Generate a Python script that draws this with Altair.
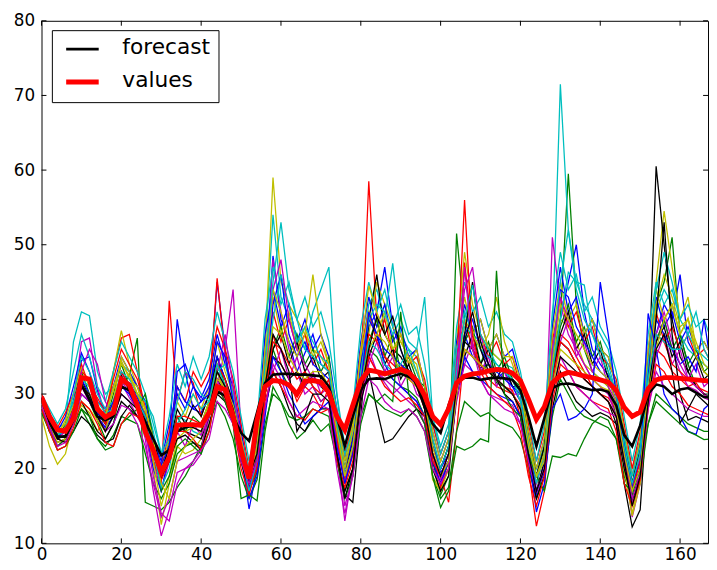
import altair as alt
import pandas as pd

# x positions (hours) shared by every series
hours = list(range(0, 169, 2))
x_ticks = [0, 20, 40, 60, 80, 100, 120, 140, 160]
y_ticks = [10, 20, 30, 40, 50, 60, 70, 80]

values_line = [
    29.6, 27.0, 25.2, 25.0, 26.8, 32.2, 32.0, 28.0, 26.9, 27.5, 32.0, 31.2,
    28.5, 25.0, 22.5, 19.5, 21.5, 25.8, 25.9, 25.9, 25.8, 27.5, 31.0, 30.6,
    27.0, 22.5, 18.7, 26.5, 31.0, 31.8, 31.7, 31.2, 30.0, 31.7, 31.8, 31.6,
    30.2, 27.0, 25.2, 28.5, 31.8, 33.2, 33.0, 32.7, 33.0, 33.3, 32.9, 31.8,
    29.8, 27.0, 25.9, 28.0, 31.5, 32.4, 32.7, 32.8, 33.1, 33.3, 33.2, 32.8,
    31.8, 29.3, 26.6, 28.3, 31.5, 32.5, 32.9, 32.7, 32.4, 32.2, 31.9, 31.6,
    30.5, 28.2, 27.0, 27.6, 30.7, 31.9, 32.2, 32.2, 32.1, 32.0, 31.9, 31.8, 31.7]

forecast_line = [
    29.3, 26.5, 24.3, 24.3, 26.5, 31.3, 29.2, 27.0, 26.5, 27.0, 31.0, 30.5,
    28.5, 26.3, 24.0, 21.8, 22.5, 25.0, 25.5, 25.8, 25.8, 27.5, 30.3, 29.8,
    27.0, 24.8, 23.7, 27.5, 31.5, 32.6, 32.7, 32.7, 32.6, 32.6, 32.5, 32.4,
    31.0, 27.0, 23.0, 27.0, 30.5, 32.0, 32.1, 32.0, 32.4, 32.7, 32.3, 31.7,
    28.5, 26.0, 24.8, 28.5, 31.5, 32.2, 32.2, 31.9, 32.1, 32.2, 32.1, 31.9,
    30.5, 27.0, 23.0, 26.8, 30.8, 31.3, 31.4, 31.2, 30.8, 30.5, 30.6, 30.3,
    28.5, 24.5, 23.0, 25.8, 30.0, 31.3, 31.0, 30.0, 30.6, 30.8, 30.2, 29.6, 29.5]

blue_1 = [
    29.5, 27.0, 24.5, 25.0, 28.0, 34.5, 35.0, 30.5, 27.0, 28.5, 33.0, 31.0,
    29.0, 27.5, 22.0, 19.0, 24.0, 40.0, 33.0, 28.0, 27.5, 30.0, 45.0, 36.0,
    29.0, 22.0, 14.6, 20.0, 33.0, 48.5, 40.0, 37.0, 33.0, 35.5, 38.0, 34.0,
    33.0, 26.0, 19.0, 23.0, 33.0, 39.0, 41.0, 47.0, 39.0, 36.0, 33.0, 32.0,
    28.0, 22.0, 19.5, 21.0, 32.0, 38.0, 35.0, 33.5, 34.0, 32.0, 33.0, 31.0,
    29.0, 23.0, 16.5, 21.0, 33.0, 40.0, 45.0, 50.0, 41.0, 36.0, 34.0, 32.5,
    29.0, 22.0, 17.5, 21.0, 31.0, 38.0, 42.0, 40.0, 46.0, 37.0, 35.0, 33.0, 32.0]
green_1 = [
    28.5, 26.0, 24.0, 24.5, 26.0, 30.0, 29.0, 26.5, 24.0, 26.0, 31.0, 32.5,
    37.5, 15.5, 15.0, 14.5, 15.5, 17.5, 19.0, 21.0, 23.0, 27.0, 33.0, 30.0,
    26.0, 21.0, 17.0, 19.5, 30.0, 36.0, 33.0, 31.0, 30.0, 33.0, 31.0, 29.0,
    30.0, 24.0, 18.0, 22.0, 30.0, 36.0, 35.0, 33.0, 32.0, 31.0, 30.5, 29.5,
    27.0, 21.0, 16.5, 19.0, 51.5, 40.0, 36.0, 33.0, 34.0, 31.5, 31.0, 30.0,
    28.0, 23.0, 18.0, 22.0, 35.0, 40.0, 59.5, 42.0, 36.0, 33.0, 32.0, 31.0,
    27.0, 21.0, 16.5, 20.0, 33.0, 42.0, 45.0, 51.0, 38.0, 34.0, 31.0, 30.0, 29.5]
red_1 = [
    29.0, 26.5, 24.0, 23.5, 27.0, 31.0, 29.5, 27.0, 25.0, 33.0, 37.5, 38.0,
    33.0, 28.0, 21.0, 18.0, 42.5, 29.0, 33.0, 31.5, 27.0, 30.0, 45.5, 35.0,
    30.0, 24.0, 18.0, 22.0, 30.0, 38.0, 34.0, 32.0, 29.0, 31.0, 30.0, 28.0,
    31.0, 24.0, 18.5, 24.0, 33.0, 58.5, 40.0, 35.0, 33.0, 34.0, 32.0, 31.0,
    28.0, 22.0, 19.0, 15.5, 25.0, 36.0, 35.0, 34.0, 32.0, 31.0, 30.5, 30.0,
    28.5, 24.0, 19.0, 23.0, 33.0, 38.0, 37.0, 35.0, 33.0, 31.0, 30.0, 29.5,
    28.0, 23.0, 18.0, 22.0, 30.0, 36.0, 35.0, 33.0, 32.0, 31.0, 31.5, 30.0, 29.0]
cyan_1 = [
    29.5, 27.5, 25.5, 26.0, 37.0, 41.0, 40.5, 33.0, 30.0, 31.0, 34.0, 33.0,
    31.0, 29.0, 25.0, 20.0, 22.0, 27.0, 26.5, 25.0, 24.5, 28.0, 33.0, 32.0,
    28.0, 23.0, 19.0, 23.0, 36.0, 54.0, 43.0, 40.0, 38.0, 36.0, 41.0, 44.0,
    47.0, 30.0, 21.0, 26.0, 35.0, 42.0, 44.0, 40.0, 47.5, 38.0, 36.0, 35.0,
    31.0, 26.0, 22.0, 25.0, 36.0, 41.0, 38.0, 37.0, 36.0, 35.0, 34.0, 33.5,
    31.0, 25.0, 20.0, 23.0, 38.0, 71.5, 52.0, 45.0, 42.0, 40.0, 38.0, 36.0,
    31.0, 24.0, 20.0, 24.0, 33.0, 41.0, 44.0, 42.0, 38.0, 36.0, 35.0, 34.0, 33.0]
magenta_1 = [
    28.0, 25.5, 23.0, 24.0, 29.0, 37.0, 37.5, 31.0, 27.0, 28.0, 32.0, 30.0,
    28.0, 24.0, 17.0, 11.0, 14.5, 19.5, 20.0, 20.5, 22.0, 27.0, 31.0, 36.0,
    44.0, 25.0, 18.5, 22.0, 31.0, 48.0, 41.0, 36.0, 33.0, 30.0, 31.0, 29.0,
    30.0, 22.0, 13.0, 20.0, 29.0, 35.0, 33.0, 31.5, 30.0, 31.0, 30.0, 29.0,
    26.0, 20.0, 18.0, 20.0, 30.0, 34.0, 33.0, 32.0, 30.0, 29.5, 29.0, 28.5,
    26.0, 21.0, 16.0, 20.0, 51.0, 42.0, 38.0, 36.0, 34.0, 32.0, 31.0, 30.0,
    27.0, 21.0, 15.5, 20.0, 30.0, 37.0, 40.0, 36.0, 33.0, 31.0, 30.5, 29.5, 29.0]
yellow_1 = [
    27.0, 23.0, 20.6, 22.0, 26.5, 28.5, 27.5, 25.0, 27.0, 33.0, 38.5, 34.0,
    31.0, 27.0, 20.0, 12.5, 18.0, 23.0, 22.0, 22.5, 24.0, 29.0, 34.0, 32.0,
    29.0, 23.0, 18.0, 24.0, 36.0, 59.0, 45.0, 42.0, 40.0, 38.0, 36.0, 35.0,
    33.0, 25.0, 20.0, 24.0, 33.0, 38.0, 45.0, 42.0, 39.0, 37.0, 35.0, 34.0,
    29.0, 19.0, 17.0, 21.0, 37.0, 49.0, 42.0, 38.0, 36.0, 35.0, 34.0, 32.0,
    29.0, 23.0, 18.0, 22.0, 33.0, 40.0, 39.0, 37.0, 34.0, 33.0, 32.0, 31.0,
    28.0, 20.0, 14.0, 19.0, 32.0, 45.0, 54.5, 47.0, 40.0, 43.0, 36.0, 33.0, 32.0]
black_1 = [
    28.5, 25.0, 23.5, 24.0, 27.0, 29.0, 27.0, 25.0, 24.0, 26.0, 29.0, 28.0,
    27.0, 26.0, 21.0, 18.5, 22.0, 26.0, 25.0, 24.5, 24.0, 27.0, 32.0, 30.0,
    27.0, 21.0, 17.0, 21.0, 30.0, 35.0, 34.0, 32.0, 33.0, 31.0, 32.5, 31.0,
    30.0, 22.0, 16.5, 15.5, 27.0, 40.0, 46.0, 38.0, 36.0, 35.0, 33.0, 32.0,
    28.0, 21.0, 18.0, 21.0, 32.0, 37.0, 36.0, 34.0, 33.0, 32.0, 31.0, 30.0,
    28.0, 22.0, 17.0, 21.0, 31.0, 37.0, 36.0, 34.0, 32.0, 31.0, 30.0, 29.0,
    26.0, 18.0, 12.2, 14.5, 30.0, 60.5, 50.0, 40.0, 35.0, 33.0, 31.0, 30.0, 29.0]
blue_2 = [
    28.0, 25.5, 24.0, 25.5, 29.0, 32.0, 30.0, 27.0, 25.5, 27.0, 31.0, 30.0,
    28.0, 25.0, 20.0, 17.0, 22.0, 31.0, 29.0, 28.0, 29.0, 31.0, 35.0, 32.0,
    28.0, 22.0, 17.5, 20.0, 30.0, 42.0, 46.0, 38.0, 35.0, 37.0, 34.0, 33.0,
    32.0, 25.0, 20.0, 24.0, 34.0, 40.0, 38.0, 36.0, 35.0, 34.0, 33.0, 32.0,
    29.0, 23.0, 20.0, 22.0, 31.0, 38.0, 40.0, 36.0, 34.0, 33.0, 32.0, 31.0,
    30.0, 24.0, 17.0, 19.5, 34.0, 44.0, 43.0, 39.0, 37.0, 35.0, 33.0, 32.0,
    29.0, 23.0, 18.0, 21.0, 33.0, 40.0, 38.0, 36.0, 34.0, 35.0, 33.0, 40.0, 33.0]
green_2 = [
    28.0, 25.0, 23.0, 24.0, 26.0, 28.0, 26.0, 24.0, 23.0, 24.5, 27.0, 26.5,
    26.0, 22.0, 18.0, 16.0, 18.0, 22.0, 23.0, 23.5, 23.0, 26.0, 29.0, 27.0,
    24.0, 19.0, 16.0, 18.5, 26.0, 30.0, 29.0, 26.0, 24.0, 25.0, 26.5, 25.0,
    26.0, 21.0, 17.0, 20.0, 27.0, 30.0, 29.0, 28.0, 27.5, 27.0, 28.0, 27.0,
    25.0, 19.0, 16.0, 17.5, 25.0, 29.0, 28.0, 27.0, 27.5, 26.5, 26.0, 25.5,
    24.0, 20.0, 16.0, 19.0, 27.0, 32.0, 30.0, 28.0, 27.0, 26.5, 26.0, 25.5,
    24.0, 19.0, 16.0, 18.0, 26.0, 30.0, 29.0, 28.0, 27.0, 26.0, 25.5, 25.0, 25.0]
red_2 = [
    30.0, 27.5, 25.0, 25.5, 28.0, 33.0, 32.0, 28.0, 26.0, 28.0, 33.0, 31.0,
    29.0, 26.0, 21.0, 18.5, 21.0, 27.0, 27.0, 26.5, 26.0, 28.0, 34.0, 32.0,
    28.0, 23.0, 17.0, 20.0, 30.0, 37.0, 36.0, 34.0, 32.0, 33.0, 31.0, 30.0,
    32.0, 24.0, 19.0, 22.0, 32.0, 38.0, 37.0, 35.0, 34.0, 33.0, 32.5, 31.5,
    29.0, 22.0, 17.5, 20.0, 33.0, 56.0, 36.0, 34.0, 33.0, 32.0, 31.0, 30.5,
    27.0, 20.0, 12.3, 17.0, 32.0, 37.0, 36.0, 34.0, 32.0, 31.0, 30.0, 29.0,
    27.0, 21.0, 17.0, 21.0, 31.0, 38.0, 37.0, 34.0, 33.0, 32.0, 31.0, 30.5, 30.0]
cyan_2 = [
    29.0, 26.5, 24.5, 25.0, 30.0, 35.0, 33.0, 30.0, 28.0, 29.0, 33.0, 32.0,
    30.0, 29.0, 27.0, 22.0, 24.0, 29.0, 33.0, 32.0, 30.0, 29.0, 33.0, 34.0,
    30.0, 24.0, 20.0, 23.0, 31.0, 40.0, 46.0, 42.0, 37.0, 39.0, 37.0, 35.0,
    34.0, 28.0, 22.0, 25.0, 33.0, 40.0, 42.0, 41.0, 38.0, 40.0, 37.0, 36.0,
    43.0, 27.0, 22.0, 25.0, 36.0, 39.0, 38.0, 36.0, 35.0, 34.0, 33.0, 32.0,
    30.0, 24.0, 18.0, 22.0, 35.0, 45.0, 52.0, 44.0, 40.0, 38.0, 36.0, 34.0,
    30.0, 24.0, 19.0, 23.0, 34.0, 44.0, 49.0, 45.0, 40.0, 38.0, 36.0, 35.0, 34.0]
magenta_2 = [
    29.0, 26.0, 24.0, 25.0, 28.0, 33.0, 36.0, 34.0, 29.0, 27.0, 30.0, 29.0,
    27.0, 25.0, 19.0, 14.0, 13.0, 18.0, 20.0, 21.0, 22.5, 28.0, 33.0, 38.0,
    31.0, 24.0, 18.0, 22.0, 32.0, 44.0, 48.0, 40.0, 36.0, 34.0, 32.0, 31.0,
    31.0, 23.0, 15.0, 19.0, 30.0, 36.0, 33.0, 32.0, 31.0, 30.0, 29.0, 28.0,
    26.0, 21.0, 19.0, 21.0, 34.0, 44.0, 47.0, 38.0, 34.0, 32.0, 31.0, 30.0,
    28.0, 22.0, 17.0, 20.0, 36.0, 43.0, 40.0, 36.0, 34.0, 32.0, 31.0, 30.0,
    28.0, 21.0, 13.5, 18.0, 30.0, 38.0, 41.0, 37.0, 34.0, 32.0, 31.0, 30.0, 29.0]
yellow_2 = [
    28.5, 26.0, 23.5, 24.0, 27.0, 29.0, 28.0, 26.5, 25.0, 29.0, 35.0, 33.0,
    30.0, 27.0, 21.0, 15.0, 19.0, 24.0, 25.0, 25.5, 26.0, 29.0, 33.0, 30.0,
    27.0, 23.0, 19.0, 22.0, 33.0, 44.0, 41.0, 37.0, 35.0, 38.0, 46.0, 38.0,
    34.0, 26.0, 20.0, 25.0, 36.0, 44.5, 41.0, 38.0, 36.0, 37.0, 35.0, 33.0,
    30.0, 18.5, 17.0, 20.0, 31.0, 40.0, 38.0, 36.0, 38.0, 43.0, 37.0, 34.0,
    31.0, 24.0, 19.0, 22.0, 34.0, 42.0, 40.0, 38.0, 36.0, 34.0, 33.0, 32.0,
    29.0, 20.0, 13.7, 18.0, 31.0, 42.0, 46.0, 43.0, 39.0, 40.0, 37.0, 34.0, 33.0]
black_2 = [
    29.0, 26.0, 24.0, 23.5, 25.0, 27.0, 26.0, 24.5, 23.5, 24.0, 27.0, 28.5,
    27.0, 26.0, 24.0, 20.0, 21.0, 24.0, 24.5, 23.5, 22.5, 26.0, 30.0, 29.0,
    26.0, 22.0, 18.0, 21.0, 28.0, 33.0, 31.0, 28.0, 26.0, 25.0, 27.0, 28.0,
    28.0, 22.0, 17.0, 20.0, 29.0, 33.0, 28.0, 23.5, 24.0, 25.5, 27.0, 28.0,
    27.0, 20.0, 17.0, 19.0, 30.0, 38.0, 45.0, 37.0, 34.0, 32.0, 30.0, 29.0,
    27.0, 21.0, 16.0, 19.0, 28.0, 33.0, 31.0, 29.0, 28.0, 27.0, 27.5, 27.0,
    26.0, 20.0, 16.0, 19.0, 29.0, 40.0, 53.0, 38.0, 30.0, 26.5, 27.0, 26.5, 26.0]
blue_3 = [
    29.5, 27.0, 25.0, 25.0, 27.5, 30.0, 29.0, 27.5, 26.5, 29.0, 32.0, 31.5,
    29.5, 27.0, 23.0, 20.5, 23.0, 33.0, 34.0, 31.0, 29.0, 30.0, 37.0, 35.0,
    29.0, 23.0, 16.0, 19.0, 27.0, 35.0, 33.0, 30.0, 28.0, 26.0, 27.0, 28.0,
    29.0, 23.0, 18.0, 22.0, 31.0, 41.0, 38.0, 34.0, 32.0, 31.0, 30.0, 29.0,
    27.0, 21.0, 18.0, 21.0, 30.0, 35.0, 33.0, 32.0, 31.0, 30.0, 29.5, 29.0,
    27.0, 22.0, 14.2, 18.0, 28.0, 30.0, 26.5, 27.0, 28.0, 30.0, 45.0, 38.0,
    30.0, 23.0, 17.0, 20.0, 40.8, 36.0, 30.0, 28.0, 27.0, 25.0, 24.6, 28.0, 29.0]
green_3 = [
    27.5, 25.0, 22.5, 23.0, 25.0, 28.0, 27.0, 24.0, 22.5, 23.0, 26.0, 27.0,
    28.0, 30.0, 24.0, 17.0, 19.0, 23.0, 24.0, 23.0, 22.0, 25.0, 31.0, 29.0,
    26.0, 16.0, 16.5, 15.7, 25.0, 31.0, 29.0, 27.0, 26.5, 27.0, 28.0, 27.5,
    27.0, 21.0, 16.0, 19.0, 26.0, 30.0, 29.0, 30.0, 29.0, 41.0, 30.0, 28.0,
    26.0, 19.0, 14.8, 17.0, 23.0, 22.5, 23.0, 24.0, 23.6, 46.5, 30.0, 28.0,
    27.0, 22.0, 19.0, 17.0, 21.7, 21.5, 22.0, 21.7, 24.0, 26.0, 27.0, 26.5,
    24.0, 18.0, 17.0, 20.0, 26.0, 29.0, 28.0, 27.0, 26.0, 25.0, 24.5, 23.9, 24.0]
red_3 = [
    28.0, 25.0, 22.5, 23.0, 25.5, 29.0, 28.0, 26.0, 23.5, 23.0, 26.0, 27.5,
    27.0, 25.5, 22.0, 19.0, 21.0, 25.0, 25.0, 24.0, 22.5, 25.0, 31.0, 29.5,
    26.0, 20.0, 16.5, 20.5, 29.0, 33.0, 31.0, 29.0, 27.0, 26.5, 28.0, 27.5,
    28.0, 21.0, 17.5, 21.0, 30.0, 35.0, 33.0, 31.0, 30.0, 29.0, 29.5, 28.5,
    27.0, 21.0, 19.0, 22.0, 30.0, 47.6, 38.0, 33.0, 31.0, 30.0, 29.0, 28.0,
    25.0, 19.0, 15.0, 19.0, 29.0, 34.0, 33.0, 31.0, 30.0, 29.0, 28.5, 28.0,
    25.0, 18.0, 15.0, 18.5, 28.0, 34.0, 33.0, 31.0, 30.0, 28.5, 28.0, 27.5, 27.0]
cyan_3 = [
    29.0, 26.5, 24.5, 25.5, 29.0, 32.0, 31.0, 29.0, 27.5, 28.0, 31.0, 30.5,
    29.0, 27.0, 22.0, 17.5, 20.0, 26.0, 28.0, 30.0, 28.0, 29.0, 34.0, 31.0,
    28.0, 22.0, 17.0, 21.0, 34.0, 45.0, 53.0, 44.0, 40.0, 36.0, 35.0, 34.0,
    33.0, 26.0, 19.0, 23.0, 31.0, 37.0, 36.0, 34.0, 33.0, 34.0, 36.0, 33.0,
    30.0, 24.0, 20.0, 23.0, 33.0, 40.0, 44.6, 38.0, 36.0, 34.0, 33.0, 32.0,
    29.0, 23.0, 19.0, 21.0, 33.0, 40.0, 46.3, 45.0, 44.6, 38.0, 35.0, 33.0,
    30.0, 23.0, 18.0, 22.0, 32.0, 38.0, 37.0, 36.0, 36.0, 38.0, 41.0, 36.0, 34.0]
magenta_3 = [
    28.5, 25.5, 23.0, 23.5, 26.0, 30.0, 29.0, 27.0, 25.0, 26.0, 28.5, 28.0,
    26.0, 23.0, 18.0, 13.5, 16.0, 21.0, 21.5, 22.0, 22.5, 24.0, 29.0, 28.0,
    26.0, 21.0, 18.0, 21.0, 28.0, 34.0, 32.0, 29.0, 27.0, 28.0, 29.0, 28.5,
    28.0, 20.0, 14.0, 19.0, 27.0, 32.0, 31.0, 29.0, 28.0, 27.5, 28.0, 27.0,
    25.0, 20.0, 18.0, 20.0, 30.0, 47.0, 36.0, 32.0, 30.0, 29.0, 28.0, 27.5,
    26.0, 21.0, 17.0, 20.0, 30.0, 35.0, 33.0, 31.0, 30.0, 29.0, 28.0, 27.5,
    27.0, 21.0, 16.0, 19.0, 28.0, 33.0, 31.0, 30.0, 29.0, 28.0, 27.5, 27.0, 27.0]
yellow_3 = [
    29.0, 26.5, 25.0, 26.0, 28.5, 31.0, 30.0, 28.0, 27.0, 31.0, 34.0, 32.5,
    30.0, 28.0, 24.0, 18.0, 16.0, 21.0, 23.0, 24.0, 25.0, 28.0, 32.0, 31.0,
    28.5, 24.0, 19.0, 23.0, 32.0, 39.0, 38.0, 35.0, 33.0, 32.0, 33.0, 33.0,
    31.0, 25.0, 19.0, 23.0, 31.0, 36.0, 38.0, 37.0, 35.0, 33.0, 32.0, 31.0,
    29.0, 23.0, 19.0, 21.0, 30.0, 36.0, 35.0, 34.0, 33.0, 32.0, 31.0, 30.0,
    28.0, 23.0, 19.0, 21.0, 31.0, 36.0, 35.0, 34.0, 33.0, 32.0, 31.0, 30.5,
    28.0, 22.0, 17.0, 20.0, 30.0, 36.0, 40.0, 42.0, 38.0, 40.2, 35.0, 33.0, 32.0]
black_3 = [
    29.5, 26.5, 24.0, 24.5, 27.0, 31.0, 30.0, 27.0, 25.0, 27.0, 30.0, 29.0,
    28.0, 26.0, 22.0, 19.0, 21.0, 25.0, 26.0, 25.5, 25.0, 28.0, 33.0, 31.0,
    28.0, 23.0, 19.0, 22.0, 31.0, 38.0, 36.0, 33.0, 25.0, 27.0, 30.0, 30.0,
    29.0, 22.0, 16.0, 20.0, 30.0, 36.0, 40.4, 38.0, 40.4, 36.0, 33.0, 31.0,
    28.0, 22.0, 19.0, 22.0, 31.0, 37.0, 41.0, 36.0, 33.0, 32.0, 31.0, 30.0,
    28.0, 22.0, 17.0, 20.0, 30.0, 35.0, 34.0, 33.0, 32.0, 31.0, 30.0, 29.0,
    27.0, 21.0, 15.0, 19.0, 29.0, 36.0, 38.0, 33.0, 26.1, 28.0, 30.0, 29.0, 28.0]
blue_4 = [
    29.0, 26.0, 25.0, 27.0, 31.0, 35.5, 33.0, 29.0, 28.0, 31.0, 35.0, 33.0,
    31.0, 29.0, 24.0, 21.0, 26.0, 30.0, 28.0, 31.0, 29.5, 32.0, 38.0, 34.0,
    31.0, 25.0, 19.0, 24.0, 38.0, 44.0, 39.0, 42.0, 37.0, 40.0, 36.0, 38.0,
    35.0, 28.0, 21.0, 27.0, 37.0, 43.0, 39.0, 42.0, 37.0, 39.0, 35.0, 36.0,
    31.0, 25.0, 21.0, 24.0, 37.0, 42.0, 38.0, 40.0, 36.0, 38.0, 35.0, 36.0,
    32.0, 25.0, 20.0, 24.0, 39.0, 47.0, 41.0, 43.0, 38.0, 40.0, 36.0, 35.0,
    31.0, 25.0, 19.0, 24.0, 36.0, 43.0, 39.0, 41.0, 37.0, 39.0, 36.0, 37.0, 35.0]
green_4 = [
    28.0, 26.5, 24.0, 26.0, 29.0, 33.0, 30.0, 28.0, 26.0, 30.0, 34.0, 31.0,
    30.0, 27.0, 23.0, 19.5, 23.0, 27.0, 25.0, 27.0, 26.0, 29.0, 35.0, 31.0,
    29.0, 23.0, 18.0, 22.0, 31.0, 36.0, 39.0, 35.0, 38.0, 34.0, 36.0, 33.0,
    35.0, 26.0, 20.0, 25.0, 31.0, 37.0, 40.0, 35.0, 38.0, 33.0, 35.0, 32.0,
    31.0, 24.0, 20.0, 23.0, 31.0, 37.0, 39.0, 34.0, 37.0, 33.0, 35.0, 32.0,
    31.0, 24.0, 19.0, 23.0, 33.0, 39.0, 42.0, 37.0, 39.0, 35.0, 37.0, 33.0,
    30.0, 24.0, 18.0, 23.0, 31.0, 37.0, 40.0, 36.0, 38.0, 34.0, 36.0, 33.0, 34.0]
red_4 = [
    29.5, 27.0, 25.5, 27.5, 30.0, 34.0, 31.0, 29.5, 27.5, 32.0, 36.0, 34.0,
    32.0, 28.0, 23.0, 20.0, 25.0, 31.0, 29.0, 33.0, 31.0, 33.0, 39.0, 36.0,
    32.0, 26.0, 20.0, 25.0, 35.0, 41.0, 37.0, 40.0, 36.0, 38.0, 34.0, 36.0,
    33.0, 27.0, 22.0, 26.0, 36.0, 41.0, 37.0, 40.0, 35.0, 38.0, 34.0, 35.0,
    32.0, 26.0, 22.0, 25.0, 35.0, 40.0, 36.0, 38.0, 35.0, 37.0, 34.0, 35.0,
    31.0, 26.0, 21.0, 25.0, 37.0, 43.0, 39.0, 41.0, 37.0, 39.0, 35.0, 34.0,
    32.0, 26.0, 20.0, 25.0, 35.0, 41.0, 37.0, 39.0, 36.0, 38.0, 35.0, 36.0, 34.0]
cyan_4 = [
    30.0, 28.0, 26.0, 28.0, 33.0, 38.0, 35.0, 31.0, 29.0, 33.0, 37.0, 35.0,
    33.0, 30.0, 26.0, 22.0, 27.0, 34.0, 31.0, 35.0, 32.0, 35.0, 41.0, 37.0,
    33.0, 27.0, 21.0, 26.0, 40.0, 47.0, 42.0, 45.0, 40.0, 43.0, 39.0, 41.0,
    37.0, 30.0, 23.0, 28.0, 39.0, 45.0, 41.0, 44.0, 39.0, 42.0, 38.0, 39.0,
    34.0, 27.0, 23.0, 26.0, 39.0, 45.0, 41.0, 43.0, 39.0, 41.0, 38.0, 37.0,
    33.0, 27.0, 21.0, 26.0, 41.0, 49.0, 44.0, 46.0, 41.0, 43.0, 39.0, 37.0,
    33.0, 27.0, 21.0, 26.0, 38.0, 45.0, 42.0, 44.0, 40.0, 42.0, 39.0, 40.0, 37.0]
magenta_4 = [
    28.0, 25.0, 24.0, 25.5, 28.0, 31.0, 29.0, 27.0, 25.5, 28.0, 31.5, 29.5,
    28.0, 25.0, 21.0, 17.0, 21.0, 25.0, 23.0, 26.0, 24.5, 27.0, 32.0, 29.0,
    27.0, 22.0, 17.0, 21.0, 28.0, 33.0, 36.0, 32.0, 35.0, 31.0, 33.0, 30.0,
    31.0, 24.0, 18.0, 23.0, 29.0, 34.0, 37.0, 33.0, 35.0, 31.0, 33.0, 30.0,
    29.0, 22.0, 18.5, 21.0, 29.0, 34.0, 37.0, 33.0, 35.0, 31.0, 33.0, 30.0,
    30.0, 22.0, 18.0, 22.0, 31.0, 37.0, 40.0, 35.0, 37.0, 33.0, 35.0, 31.0,
    29.0, 22.0, 17.0, 22.0, 29.0, 35.0, 38.0, 34.0, 36.0, 32.0, 34.0, 31.0, 32.0]
yellow_4 = [
    29.0, 27.0, 24.5, 26.5, 30.0, 33.5, 31.0, 28.5, 27.0, 30.5, 34.5, 32.0,
    31.0, 28.0, 23.5, 20.0, 24.0, 29.0, 27.0, 30.0, 28.0, 31.0, 37.0, 33.0,
    30.0, 24.0, 19.0, 23.0, 36.0, 43.0, 38.0, 41.0, 36.0, 39.0, 35.0, 37.0,
    34.0, 27.0, 21.0, 26.0, 35.0, 41.0, 38.0, 41.0, 36.0, 38.0, 34.0, 36.0,
    31.0, 25.0, 21.0, 24.0, 36.0, 43.0, 38.0, 40.0, 36.0, 38.0, 35.0, 35.0,
    32.0, 25.0, 20.0, 24.0, 38.0, 45.0, 40.0, 42.0, 38.0, 40.0, 36.0, 35.0,
    31.0, 25.0, 19.0, 24.0, 36.0, 44.0, 40.0, 42.0, 38.0, 40.0, 36.0, 37.0, 35.0]
black_4 = [
    28.5, 26.0, 24.5, 25.0, 28.5, 32.0, 29.5, 27.5, 26.0, 29.0, 32.5, 30.5,
    29.0, 27.0, 22.5, 19.5, 23.0, 28.0, 26.0, 28.5, 27.0, 30.0, 35.0, 32.0,
    29.0, 23.0, 18.0, 22.0, 30.0, 36.0, 38.0, 34.0, 37.0, 33.0, 35.0, 32.0,
    33.0, 25.0, 19.0, 24.0, 30.0, 35.0, 38.0, 34.0, 36.0, 32.0, 34.0, 31.0,
    30.0, 23.0, 20.0, 23.0, 30.0, 35.0, 38.0, 34.0, 36.0, 32.0, 34.0, 31.0,
    31.0, 24.0, 19.0, 23.0, 32.0, 38.0, 41.0, 36.0, 38.0, 34.0, 36.0, 32.0,
    30.0, 23.0, 18.0, 23.0, 31.0, 37.0, 39.0, 35.0, 37.0, 33.0, 35.0, 32.0, 33.0]

BLUE, GREEN, RED, CYAN = "#0000ff", "#008000", "#ff0000", "#00bfbf"
MAGENTA, YELLOW, BLACK = "#bf00bf", "#bfbf00", "#000000"
thin_series = [
    ("blue_1", BLUE, blue_1), ("green_1", GREEN, green_1), ("red_1", RED, red_1),
    ("cyan_1", CYAN, cyan_1), ("magenta_1", MAGENTA, magenta_1),
    ("yellow_1", YELLOW, yellow_1), ("black_1", BLACK, black_1),
    ("blue_4", BLUE, blue_4), ("green_4", GREEN, green_4), ("red_4", RED, red_4),
    ("cyan_4", CYAN, cyan_4), ("magenta_4", MAGENTA, magenta_4),
    ("yellow_4", YELLOW, yellow_4), ("black_4", BLACK, black_4),
    ("blue_2", BLUE, blue_2), ("green_2", GREEN, green_2), ("red_2", RED, red_2),
    ("cyan_2", CYAN, cyan_2), ("magenta_2", MAGENTA, magenta_2),
    ("yellow_2", YELLOW, yellow_2), ("black_2", BLACK, black_2),
    ("blue_3", BLUE, blue_3), ("green_3", GREEN, green_3), ("red_3", RED, red_3),
    ("cyan_3", CYAN, cyan_3), ("magenta_3", MAGENTA, magenta_3),
    ("yellow_3", YELLOW, yellow_3), ("black_3", BLACK, black_3),
]

rows = []
names, colors = [], []
for i, (nm, col, vals) in enumerate(thin_series):
    key = f"s{i:02d}_{nm}"
    names.append(key)
    colors.append(col)
    for h, v in zip(hours, vals):
        rows.append({"hour": h, "value": v, "series": key})
thin_df = pd.DataFrame(rows)
main_df = pd.DataFrame({"hour": hours, "forecast": forecast_line, "values": values_line})

W, H = 676, 530
xs = alt.Scale(domain=[0, 167], nice=False, zero=False)
ys = alt.Scale(domain=[10, 80], nice=False, zero=False)
FONT = "DejaVu Sans"

x_axis = alt.Axis(values=x_ticks, title=None, ticks=False, domain=False, grid=False,
                  labelFontSize=17, labelFont=FONT, labelColor="#000", labelPadding=3,
                  labelFlush=False)
y_axis = alt.Axis(values=y_ticks, title=None, ticks=False, domain=False, grid=False,
                  labelFontSize=17, labelFont=FONT, labelColor="#000", labelPadding=7)

thin = alt.Chart(thin_df).mark_line(strokeWidth=1.3, clip=True).encode(
    x=alt.X("hour:Q", scale=xs, axis=x_axis),
    y=alt.Y("value:Q", scale=ys, axis=y_axis),
    color=alt.Color("series:N", scale=alt.Scale(domain=names, range=colors), legend=None),
)
fc = alt.Chart(main_df).mark_line(color="#000", strokeWidth=2.6, clip=True).encode(
    x=alt.X("hour:Q", scale=xs), y=alt.Y("forecast:Q", scale=ys))
vl = alt.Chart(main_df).mark_line(color="#ff0000", strokeWidth=5, clip=True).encode(
    x=alt.X("hour:Q", scale=xs), y=alt.Y("values:Q", scale=ys))

xt = pd.DataFrame({"t": x_ticks})
yt = pd.DataFrame({"t": y_ticks})
tick_style = dict(color="#000", strokeWidth=1)
xb = alt.Chart(xt).mark_rule(**tick_style).encode(x=alt.X("t:Q", scale=xs), y=alt.value(H), y2=alt.value(H - 5))
xtp = alt.Chart(xt).mark_rule(**tick_style).encode(x=alt.X("t:Q", scale=xs), y=alt.value(0), y2=alt.value(5))
yl = alt.Chart(yt).mark_rule(**tick_style).encode(y=alt.Y("t:Q", scale=ys), x=alt.value(0), x2=alt.value(5))
yr = alt.Chart(yt).mark_rule(**tick_style).encode(y=alt.Y("t:Q", scale=ys), x=alt.value(W), x2=alt.value(W - 5))

# legend (drawn inside the plot, top-left)
one = pd.DataFrame({"k": [0]})
leg_box = alt.Chart(one).mark_rect(fill="white", stroke="#000", strokeWidth=1).encode(
    x=alt.value(11), x2=alt.value(180), y=alt.value(10), y2=alt.value(83))
leg_l1 = alt.Chart(one).mark_rule(color="#000", strokeWidth=2.6).encode(
    x=alt.value(25), x2=alt.value(58), y=alt.value(28.7))
leg_l2 = alt.Chart(one).mark_rule(color="#ff0000", strokeWidth=5).encode(
    x=alt.value(25), x2=alt.value(58), y=alt.value(62))
leg_t1 = alt.Chart(one).mark_text(text="forecast", align="left", baseline="middle",
                                  font=FONT, fontSize=22, color="#000").encode(
    x=alt.value(82), y=alt.value(27))
leg_t2 = alt.Chart(one).mark_text(text="values", align="left", baseline="middle",
                                  font=FONT, fontSize=22, color="#000").encode(
    x=alt.value(82), y=alt.value(60))

chart = alt.layer(thin, fc, vl, xb, xtp, yl, yr, leg_box, leg_l1, leg_l2, leg_t1, leg_t2).properties(
    width=W, height=H, padding={"left": 5, "top": 0, "right": 0, "bottom": 0}
).configure_view(stroke="#000", strokeWidth=1)

chart.save("out.html", embed_options={"renderer": "svg", "actions": False})
